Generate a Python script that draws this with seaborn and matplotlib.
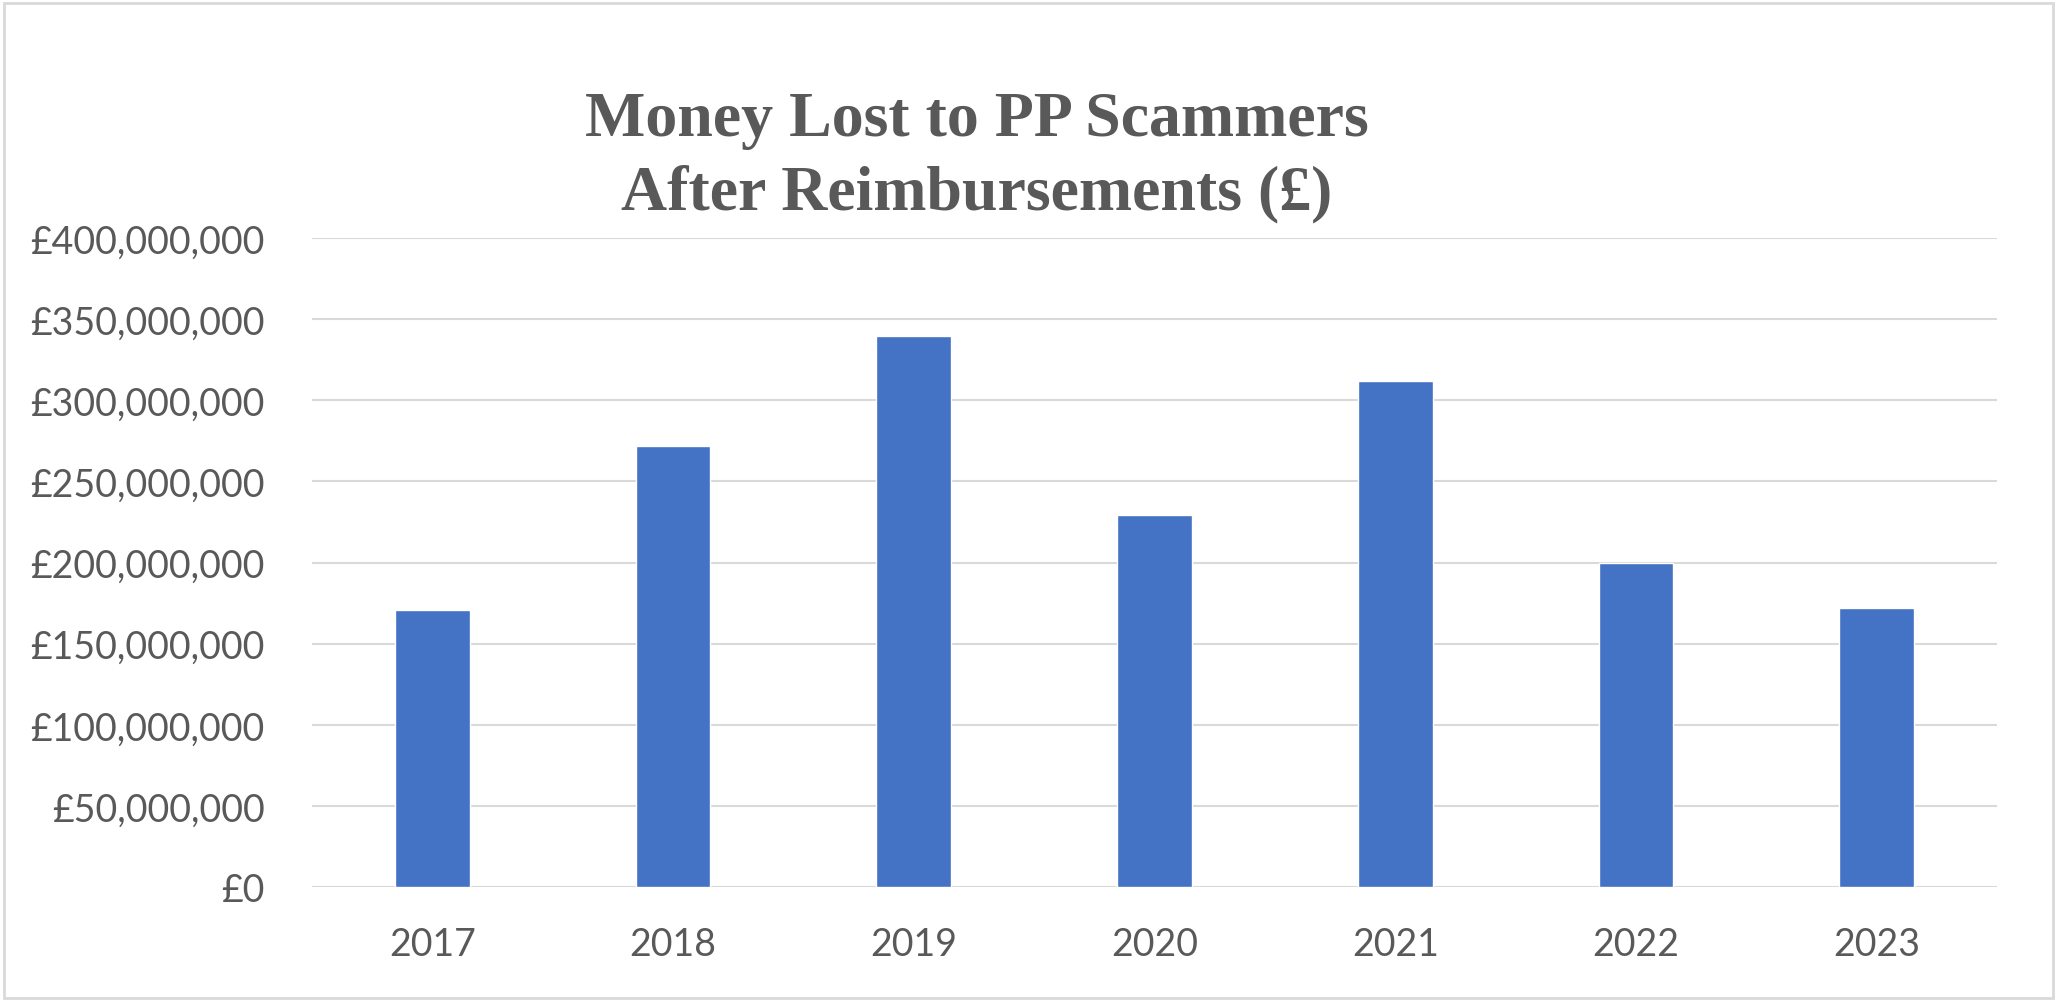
import matplotlib
matplotlib.use("Agg")
import matplotlib.pyplot as plt
import seaborn as sns
import pandas as pd
from matplotlib.ticker import FuncFormatter, MultipleLocator
from matplotlib.patches import Rectangle

years = ["2017", "2018", "2019", "2020", "2021", "2022", "2023"]
losses = [170500000, 271500000, 339500000, 229500000, 312000000, 199500000, 172000000]
title_lines = ["Money Lost to PP Scammers", "After Reimbursements (£)"]

sns.set_theme(style="white")
plt.rcParams['font.family'] = ['Lato', 'DejaVu Sans']

df = pd.DataFrame({"year": years, "loss": losses})

fig = plt.figure(figsize=(20.57, 10.03), dpi=100)
ax = fig.add_axes([312/2057, 1 - 888/1003, (1997-312)/2057, (888-239)/1003])

sns.barplot(data=df, x="year", y="loss", color="#4472C4", width=0.31,
            saturation=1, ax=ax, zorder=3)

ax.set_xlim(-0.5, 6.5)
ax.set_ylim(0, 400000000)
ax.yaxis.set_major_locator(MultipleLocator(50000000))
ax.yaxis.set_major_formatter(FuncFormatter(lambda v, p: "£{:,.0f}".format(v)))
ax.grid(axis="y", color="#D9D9D9", linewidth=1.5, zorder=0)
ax.set_axisbelow(True)
for s in ax.spines.values():
    s.set_visible(False)
ax.set_xlabel("")
ax.set_ylabel("")
ax.tick_params(axis="both", length=0, labelsize=27, labelcolor="#595959")
ax.tick_params(axis="y", pad=34)
ax.tick_params(axis="x", pad=28)

fig.text(977/2057, 1 - 121/1003, title_lines[0], ha="center", va="center",
         fontsize=46, fontweight="bold", color="#595959", family=["Liberation Serif"])
fig.text(977/2057, 1 - 194/1003, title_lines[1], ha="center", va="center",
         fontsize=46, fontweight="bold", color="#595959", family=["Liberation Serif"])

fig.patches.append(Rectangle((4/2057, 4/1003), 1 - 8/2057, 1 - 8/1003,
                             transform=fig.transFigure, fill=False,
                             edgecolor="#D9D9D9", linewidth=2))

fig.savefig("out.png", dpi=100, facecolor="white")
